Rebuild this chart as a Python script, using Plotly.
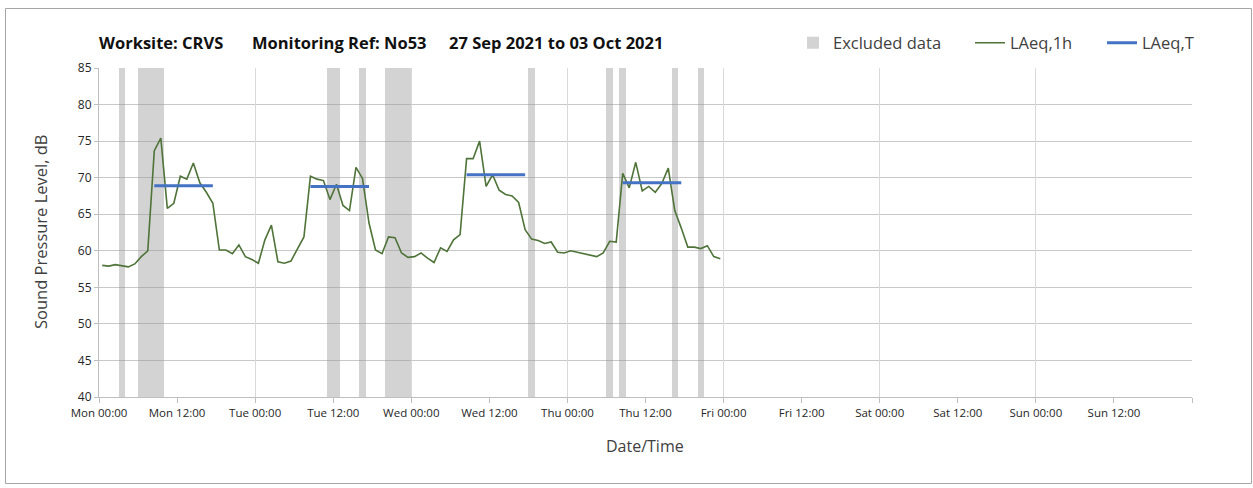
import pandas as pd
import plotly.graph_objects as go

# ---------------- data ----------------
start_time = "2021-09-27 00:00"
end_time = "2021-10-04 00:00"

# hourly LAeq,1h values (hour 0 = Mon 00:00-01:00), plotted at centre of each hour
laeq_1h = [
    58.0, 57.9, 58.1, 58.0, 57.8, 58.2, 59.2, 60.0, 73.7, 75.4,
    65.8, 66.5, 70.2, 69.8, 72.0, 69.3, 68.0, 66.5, 60.1, 60.1,
    59.6, 60.8, 59.2, 58.8, 58.3, 61.5, 63.5, 58.5, 58.3, 58.6,
    60.2, 61.9, 70.2, 69.8, 69.6, 67.0, 69.1, 66.2, 65.5, 71.4,
    69.9, 63.8, 60.1, 59.6, 61.9, 61.8, 59.7, 59.1, 59.2, 59.7,
    59.0, 58.4, 60.4, 59.9, 61.5, 62.2, 72.6, 72.6, 75.0, 68.8,
    70.4, 68.3, 67.7, 67.5, 66.6, 62.9, 61.6, 61.4, 61.0, 61.2,
    59.8, 59.7, 60.0, 59.8, 59.5, 59.3, 59.2, 59.7, 61.3, 61.2,
    70.6, 68.6, 72.1, 68.2, 68.8, 68.0, 69.2, 71.3, 65.5, 63.1,
    60.5, 60.5, 60.3, 60.7, 59.2, 58.9,
]

# excluded data periods: start hour (from Mon 00:00) and duration in hours
excluded_start_h = [3, 6, 35, 40, 44, 66, 78, 80, 88, 92]
excluded_dur_h = [1, 4, 2, 1, 4, 1, 1, 1, 1, 1]

# LAeq,T daytime periods (first and last hour-centre), one per day
laeq_t_days = [0, 1, 2, 3]
laeq_t_first_h = 8.5
laeq_t_last_h = 17.5
laeq_t = [68.9, 68.8, 70.4, 69.3]

tick_labels = ["Mon 00:00", "Mon 12:00", "Tue 00:00", "Tue 12:00", "Wed 00:00",
               "Wed 12:00", "Thu 00:00", "Thu 12:00", "Fri 00:00", "Fri 12:00",
               "Sat 00:00", "Sat 12:00", "Sun 00:00", "Sun 12:00", ""]

title_parts = ["Worksite: CRVS", "Monitoring Ref: No53", "27 Sep 2021 to 03 Oct 2021"]

y_min, y_max = 40, 85

# ---------------- build ----------------
t0 = pd.Timestamp(start_time)
hour = pd.Timedelta(hours=1)
times_1h = [t0 + (i + 0.5) * hour for i in range(len(laeq_1h))]

ex_centres = [t0 + (s + d / 2) * hour for s, d in zip(excluded_start_h, excluded_dur_h)]
ex_widths = [d * 3600 * 1000 for d in excluded_dur_h]

lt_x, lt_y = [], []
for d, v in zip(laeq_t_days, laeq_t):
    lt_x += [t0 + (24 * d + laeq_t_first_h) * hour, t0 + (24 * d + laeq_t_last_h) * hour, None]
    lt_y += [v, v, None]

tickvals = [t0 + 12 * i * hour for i in range(len(tick_labels))]

FONT = "Open Sans"
W, H = 1253, 488
ML, MR, MT, MB = 99, 61, 68, 91
PW, PH = W - ML - MR, H - MT - MB


def px_x(px):
    return (px - ML) / PW


def px_y(py):
    return (H - MB - py) / PH


fig = go.Figure()

fig.add_trace(go.Bar(
    x=ex_centres, y=[y_max - y_min] * len(ex_centres), base=y_min,
    width=ex_widths, name="Excluded data",
    marker=dict(color="rgba(150,150,150,0.42)", line=dict(width=0)),
    legend="legend", hoverinfo="skip",
))
fig.add_trace(go.Scatter(
    x=times_1h, y=laeq_1h, mode="lines", name="LAeq,1h",
    line=dict(color="#4f7339", width=1.6), legend="legend2",
))
fig.add_trace(go.Scatter(
    x=lt_x, y=lt_y, mode="lines", name="LAeq,T",
    line=dict(color="#4472c4", width=3), legend="legend3",
))
# invisible trace for daily gridline axis
fig.add_trace(go.Scatter(x=[t0], y=[y_min], xaxis="x2", mode="markers",
                         marker=dict(opacity=0), showlegend=False, hoverinfo="skip"))

legend_common = dict(orientation="h", yanchor="middle", xanchor="left",
                     y=px_y(43), bgcolor="rgba(0,0,0,0)",
                     font=dict(family=FONT, size=16.5, color="#404040"))

title_x = [96.5, 249.5, 446.5]
annotations = [
    dict(text="<b>" + t + "</b>", xref="paper", yref="paper", x=px_x(x), y=px_y(43),
         xanchor="left", yanchor="middle", showarrow=False,
         font=dict(family=FONT, size=16.5, color="#111111"))
    for t, x in zip(title_parts, title_x)
]
annotations += [
    dict(text="Sound Pressure Level, dB", xref="paper", yref="paper",
         x=px_x(40), y=px_y(232), textangle=-90, xanchor="center",
         yanchor="middle", showarrow=False,
         font=dict(family=FONT, size=16.5, color="#404040")),
    dict(text="Date/Time", xref="paper", yref="paper",
         x=px_x(645), y=px_y(446), xanchor="center", yanchor="middle",
         showarrow=False, font=dict(family=FONT, size=16, color="#404040")),
]

fig.update_layout(
    width=W, height=H,
    margin=dict(l=ML, r=MR, t=MT, b=MB),
    plot_bgcolor="white", paper_bgcolor="white",
    font=dict(family=FONT, color="#404040"),
    showlegend=True, barmode="overlay", bargap=0,
    legend=dict(x=px_x(793), **legend_common),
    legend2=dict(x=px_x(970), **legend_common),
    legend3=dict(x=px_x(1102), **legend_common),
    xaxis=dict(
        type="date", range=[start_time, end_time],
        tickmode="array", tickvals=tickvals, ticktext=tick_labels,
        showgrid=False, showline=True, linecolor="#bfbfbf", linewidth=1,
        ticks="outside", ticklen=5, tickcolor="#bfbfbf",
        tickfont=dict(family=FONT, size=11.5, color="#262626"),
        zeroline=False,
    ),
    xaxis2=dict(
        type="date", range=[start_time, end_time], overlaying="x",
        tick0=start_time, dtick=86400000, showticklabels=False, ticks="",
        showgrid=True, gridcolor="#d9d9d9", gridwidth=1, showline=False,
        zeroline=False,
    ),
    yaxis=dict(
        range=[y_min, y_max], dtick=5, showgrid=True, gridcolor="#c8c8c8",
        gridwidth=1, showline=True, linecolor="#bfbfbf", ticks="outside",
        ticklen=4, tickcolor="#bfbfbf", zeroline=False,
        tickfont=dict(family=FONT, size=12, color="#262626"),
    ),
    annotations=annotations,
    shapes=[
        dict(type="rect", xref="paper", yref="paper",
             x0=px_x(5.5), x1=px_x(1251.5), y0=px_y(483.5), y1=px_y(8.5),
             line=dict(color="#a6a6a6", width=1), fillcolor="rgba(0,0,0,0)",
             layer="below"),
    ],
)

fig.write_html("out.html", config={"displayModeBar": False},
               post_script="document.body.style.margin='0px';")
